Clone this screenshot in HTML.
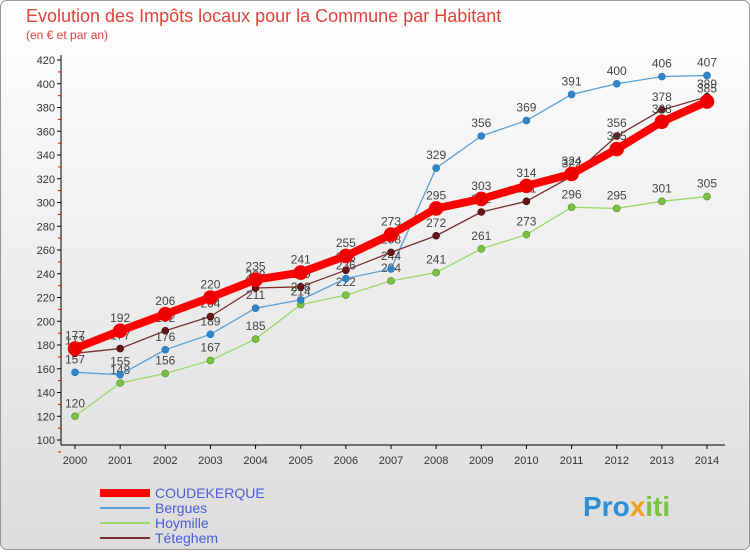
<!DOCTYPE html>
<html><head><meta charset="utf-8"><style>
body{margin:0;width:750px;height:550px;overflow:hidden;font-family:"Liberation Sans",sans-serif}
</style></head><body>
<svg id="c" width="750" height="550" xmlns="http://www.w3.org/2000/svg">
<defs><linearGradient id="bg" x1="0" y1="0" x2="0" y2="1"><stop offset="0" stop-color="#ffffff"/><stop offset="1" stop-color="#dcdcdc"/></linearGradient></defs>
<rect x="0.5" y="0.5" width="749" height="549" rx="6" fill="url(#bg)" stroke="#999"/>
<text x="26" y="22" font-size="18" fill="#e0433a">Evolution des Impôts locaux pour la Commune par Habitant</text>
<text x="26" y="39" font-size="12" fill="#e0433a">(en € et par an)</text>
<g id="axes"></g><g id="series"></g><g id="legend"></g>
<text x="583" y="516" font-size="28" font-weight="bold" fill="#2a8fd6">Pro<tspan fill="#f0a020">x</tspan><tspan fill="#7cc242">iti</tspan></text>
</svg>
<script>
const years=[2000,2001,2002,2003,2004,2005,2006,2007,2008,2009,2010,2011,2012,2013,2014];
const yTicks=[100,120,140,160,180,200,220,240,260,280,300,320,340,360,380,400,420];
const coudekerque=[177,192,206,220,235,241,255,273,295,303,314,324,345,368,385];
const bergues=[157,155,176,189,211,218,236,244,329,356,369,391,400,406,407];
const hoymille=[120,148,156,167,185,214,222,234,241,261,273,296,295,301,305];
const teteghem=[173,177,192,204,228,229,243,258,272,292,301,322,356,378,389];
const names=["COUDEKERQUE","Bergues","Hoymille","Téteghem"];
const NS="http://www.w3.org/2000/svg";
const X=i=>75+i*(707-75)/14, Y=v=>440-(v-100)*380/320;
function mk(t,a,p){const e=document.createElementNS(NS,t);for(const k in a)e.setAttribute(k,a[k]);p.appendChild(e);return e;}
const ax=document.getElementById('axes');
mk('line',{x1:61,y1:55,x2:61,y2:445,stroke:'#000'},ax);
mk('line',{x1:61,y1:445,x2:725,y2:445,stroke:'#000'},ax);
yTicks.forEach(v=>{const y=Y(v);
 mk('line',{x1:57,y1:y,x2:61,y2:y,stroke:'#000'},ax);
 mk('line',{x1:58,y1:y+11.9,x2:61,y2:y+11.9,stroke:'#e00'},ax);
 const t=mk('text',{x:55,y:y+4,'font-size':11,'text-anchor':'end',fill:'#333'},ax);t.textContent=v;
 });
years.forEach((yr,i)=>{const x=X(i);
 mk('line',{x1:x,y1:445,x2:x,y2:449,stroke:'#000'},ax);
 const t=mk('text',{x:x,y:464,'font-size':11,'text-anchor':'middle',fill:'#333'},ax);t.textContent=yr;
 });
const sg=document.getElementById('series');
const defs=[[coudekerque,'#f00','#e00',8,7,'#f00'],[bergues,'#5aa0d8','#2f86c8',1.3,3.5,'#2b6ea8'],[hoymille,'#9ad86a','#7cc242',1.3,3.5,'#4a8a20'],[teteghem,'#7a3030','#6a1515',1.3,3.5,'#3a0808']];
[2,1,3,0].forEach(si=>{const [d,lc,mc,w,r,sc]=defs[si];
 const g=mk('g',{},sg);
 mk('polyline',{points:d.map((v,i)=>X(i)+','+Y(v)).join(' '),fill:'none',stroke:lc,'stroke-width':w,'stroke-linejoin':'round'},g);
 d.forEach((v,i)=>{const c=mk('circle',{cx:X(i),cy:Y(v),r:r,fill:mc,stroke:sc,'stroke-width':0.6},g);
  
  const t=mk('text',{x:X(i),y:Y(v)-9,'font-size':12,'text-anchor':'middle',fill:'#444'},g);t.textContent=v;
  });
});
const lg=document.getElementById('legend');
names.forEach((n,i)=>{const y=493+i*15;const [d,lc,,w]=defs[i];
 const g=mk('g',{},lg);
 mk('line',{x1:100,y1:y,x2:150,y2:y,stroke:lc,'stroke-width':i==0?8:2},g);
 const t=mk('text',{x:155,y:y+5,'font-size':14,fill:'#4a5cd8'},g);t.textContent=n;});
</script>
</body></html>
